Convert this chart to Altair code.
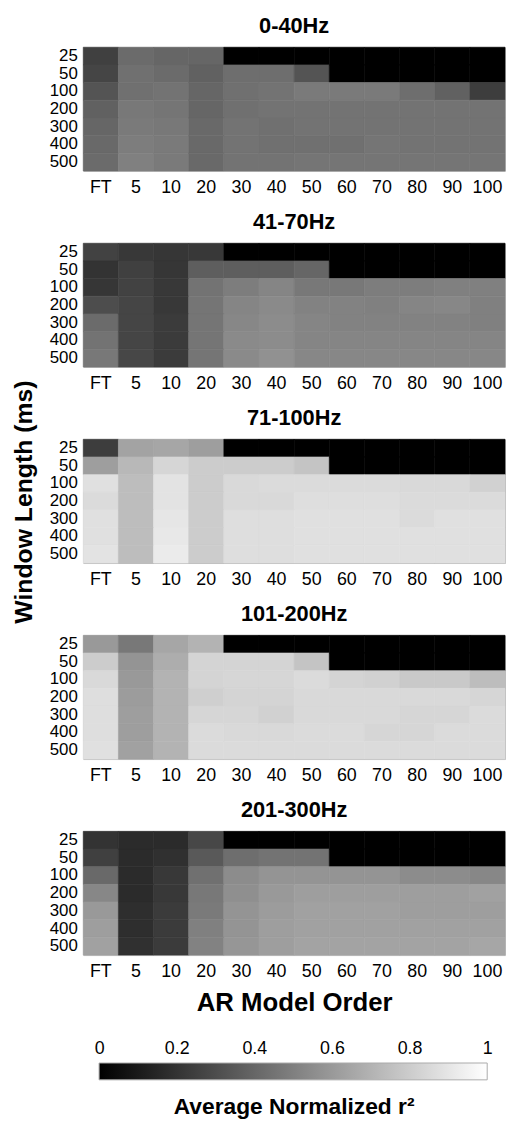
import altair as alt
import pandas as pd

FONT = "Liberation Sans"

ORDERS = ["FT", "5", "10", "20", "30", "40", "50", "60", "70", "80", "90", "100"]
WINDOWS = ["25", "50", "100", "200", "300", "400", "500"]
BANDS = ["0-40Hz", "41-70Hz", "71-100Hz", "101-200Hz", "201-300Hz"]

# rows = window length (25..500), columns = AR model order (FT..100); 0 = not computed (black)
R2_0_40 = [
    [0.25, 0.42, 0.40, 0.40, 0, 0, 0, 0, 0, 0, 0, 0],
    [0.27, 0.44, 0.42, 0.38, 0.43, 0.43, 0.33, 0, 0, 0, 0, 0],
    [0.33, 0.44, 0.45, 0.40, 0.44, 0.45, 0.48, 0.48, 0.48, 0.43, 0.38, 0.24],
    [0.38, 0.47, 0.46, 0.40, 0.44, 0.45, 0.45, 0.45, 0.45, 0.45, 0.45, 0.45],
    [0.40, 0.48, 0.47, 0.41, 0.45, 0.44, 0.45, 0.45, 0.45, 0.45, 0.45, 0.45],
    [0.41, 0.49, 0.48, 0.41, 0.45, 0.44, 0.44, 0.44, 0.46, 0.45, 0.45, 0.45],
    [0.42, 0.50, 0.48, 0.41, 0.45, 0.45, 0.46, 0.46, 0.46, 0.46, 0.46, 0.46],
]
R2_41_70 = [
    [0.26, 0.22, 0.21, 0.22, 0, 0, 0, 0, 0, 0, 0, 0],
    [0.20, 0.25, 0.21, 0.37, 0.37, 0.37, 0.40, 0, 0, 0, 0, 0],
    [0.21, 0.26, 0.22, 0.45, 0.49, 0.52, 0.47, 0.47, 0.49, 0.49, 0.50, 0.50],
    [0.30, 0.27, 0.22, 0.46, 0.52, 0.54, 0.51, 0.51, 0.50, 0.52, 0.53, 0.50],
    [0.42, 0.27, 0.23, 0.46, 0.53, 0.55, 0.52, 0.51, 0.51, 0.51, 0.51, 0.50],
    [0.45, 0.27, 0.23, 0.46, 0.54, 0.55, 0.52, 0.52, 0.52, 0.52, 0.52, 0.52],
    [0.47, 0.28, 0.23, 0.46, 0.54, 0.57, 0.53, 0.53, 0.53, 0.53, 0.53, 0.53],
]
R2_71_100 = [
    [0.24, 0.64, 0.65, 0.62, 0, 0, 0, 0, 0, 0, 0, 0],
    [0.62, 0.72, 0.84, 0.80, 0.80, 0.80, 0.77, 0, 0, 0, 0, 0],
    [0.88, 0.74, 0.89, 0.80, 0.85, 0.86, 0.86, 0.86, 0.86, 0.85, 0.85, 0.82],
    [0.86, 0.74, 0.89, 0.80, 0.85, 0.85, 0.87, 0.87, 0.87, 0.86, 0.86, 0.86],
    [0.88, 0.74, 0.90, 0.80, 0.87, 0.87, 0.88, 0.88, 0.88, 0.86, 0.88, 0.88],
    [0.88, 0.74, 0.91, 0.80, 0.87, 0.87, 0.88, 0.88, 0.88, 0.88, 0.88, 0.88],
    [0.89, 0.74, 0.92, 0.80, 0.87, 0.87, 0.88, 0.88, 0.88, 0.88, 0.88, 0.88],
]
R2_101_200 = [
    [0.60, 0.47, 0.65, 0.70, 0, 0, 0, 0, 0, 0, 0, 0],
    [0.80, 0.58, 0.68, 0.83, 0.83, 0.83, 0.77, 0, 0, 0, 0, 0],
    [0.85, 0.60, 0.70, 0.83, 0.84, 0.84, 0.86, 0.83, 0.82, 0.79, 0.79, 0.74],
    [0.87, 0.61, 0.70, 0.81, 0.83, 0.83, 0.85, 0.85, 0.85, 0.85, 0.85, 0.84],
    [0.87, 0.62, 0.70, 0.84, 0.84, 0.82, 0.85, 0.85, 0.85, 0.84, 0.84, 0.86],
    [0.87, 0.62, 0.70, 0.86, 0.85, 0.85, 0.86, 0.86, 0.84, 0.84, 0.86, 0.86],
    [0.88, 0.63, 0.70, 0.86, 0.86, 0.86, 0.86, 0.86, 0.86, 0.86, 0.86, 0.86],
]
R2_201_300 = [
    [0.20, 0.17, 0.17, 0.28, 0, 0, 0, 0, 0, 0, 0, 0],
    [0.25, 0.17, 0.19, 0.35, 0.43, 0.45, 0.45, 0, 0, 0, 0, 0],
    [0.41, 0.17, 0.22, 0.44, 0.55, 0.58, 0.58, 0.58, 0.58, 0.55, 0.55, 0.53],
    [0.53, 0.17, 0.22, 0.47, 0.56, 0.60, 0.62, 0.62, 0.62, 0.62, 0.62, 0.63],
    [0.60, 0.18, 0.23, 0.48, 0.58, 0.61, 0.63, 0.63, 0.63, 0.62, 0.62, 0.62],
    [0.62, 0.18, 0.23, 0.50, 0.58, 0.62, 0.63, 0.63, 0.63, 0.63, 0.63, 0.63],
    [0.63, 0.19, 0.23, 0.51, 0.59, 0.62, 0.64, 0.64, 0.64, 0.64, 0.64, 0.65],
]
PANELS = [R2_0_40, R2_41_70, R2_71_100, R2_101_200, R2_201_300]

CBAR_RANGE = [0.0, 1.0]
CBAR_TICKS = [0, 0.2, 0.4, 0.6, 0.8, 1]

color_scale = alt.Scale(domain=CBAR_RANGE, range=["#000000", "#ffffff"], interpolate="rgb")

W, H = 426, 125

panels = []
for i, (band, grid) in enumerate(zip(BANDS, PANELS)):
    rows = []
    for wi, w in enumerate(WINDOWS):
        for oi, o in enumerate(ORDERS):
            rows.append({"order": o, "window": w, "r2": grid[wi][oi]})
    df = pd.DataFrame(rows)
    last = i == len(BANDS) - 1
    x_axis = alt.Axis(labelAngle=0, ticks=False, domain=False, grid=False, labelFontSize=18,
                      labelPadding=8, labelColor="black",
                      title="AR Model Order" if last else None,
                      titleFontSize=26, titleFontWeight="bold", titlePadding=9, titleColor="black")
    y_axis = alt.Axis(ticks=False, domain=False, grid=False, labelFontSize=17, labelPadding=6,
                      labelColor="black", labelOverlap=False, labelBaseline="middle", title=None)
    ch = alt.Chart(df).mark_rect(strokeWidth=0.6).encode(
        x=alt.X("order:O", sort=ORDERS, axis=x_axis, scale=alt.Scale(paddingInner=0, paddingOuter=0)),
        y=alt.Y("window:O", sort=WINDOWS, axis=y_axis, scale=alt.Scale(paddingInner=0, paddingOuter=0)),
        color=alt.Color("r2:Q", scale=color_scale, legend=None),
        stroke=alt.Stroke("r2:Q", scale=color_scale, legend=None),
    ).properties(
        width=W, height=H,
        view=alt.ViewBackground(stroke="#bbbbbb", strokeWidth=1),
        title=alt.Title(band, fontSize=22, fontWeight="bold", color="black", offset=9, anchor="middle"),
    )
    panels.append(ch)

# colorbar (gradient rect on the same 0..1 scale, ticks above)
cb_df = pd.DataFrame({"lo": [CBAR_RANGE[0]], "hi": [CBAR_RANGE[1]]})
bar_px0, bar_px1 = 16, 408
span = (CBAR_RANGE[1] - CBAR_RANGE[0]) * W / (bar_px1 - bar_px0)
d0 = CBAR_RANGE[0] - bar_px0 / W * span
d1 = d0 + span
cbar = alt.Chart(cb_df).mark_rect(
    fill=alt.Gradient(gradient="linear",
                      stops=[alt.GradientStop(color="#000000", offset=0),
                             alt.GradientStop(color="#ffffff", offset=1)],
                      x1=0, x2=1, y1=0, y2=0),
    stroke="#aaaaaa", strokeWidth=1,
).encode(
    x=alt.X("lo:Q", scale=alt.Scale(domain=[d0, d1], nice=False, zero=False),
            axis=alt.Axis(orient="top", values=CBAR_TICKS, format="~g", ticks=False, domain=False,
                          grid=False, labelFontSize=18, labelPadding=6, labelColor="black", title=None)),
    x2="hi:Q",
).properties(
    width=W, height=17,
    title=alt.Title("Average Normalized r²", orient="bottom", fontSize=23, fontWeight="bold",
                    color="black", offset=16, dx=0, anchor="middle"),
)

# y-axis title spanning the stack
ytitle = alt.Chart(pd.DataFrame({"window": WINDOWS})).mark_point(opacity=0).encode(
    y=alt.Y("window:N", sort=WINDOWS,
            axis=alt.Axis(title="Window Length (ms)", labels=False, ticks=False, domain=False, grid=False,
                          titleFontSize=25, titleFontWeight="bold", titleColor="black", titlePadding=0))
).properties(width=1, height=918)

stack = alt.vconcat(*panels, spacing=12)
right = alt.vconcat(stack, cbar, spacing=22)
chart = alt.hconcat(ytitle, right, spacing=8).properties(
    padding={"left": 3, "top": 0, "right": 0, "bottom": 0}
).configure(font=FONT).configure_view(stroke="transparent").configure_axis(labelFont=FONT, titleFont=FONT)

chart.save("out.html", embed_options={"renderer": "svg", "actions": False})
